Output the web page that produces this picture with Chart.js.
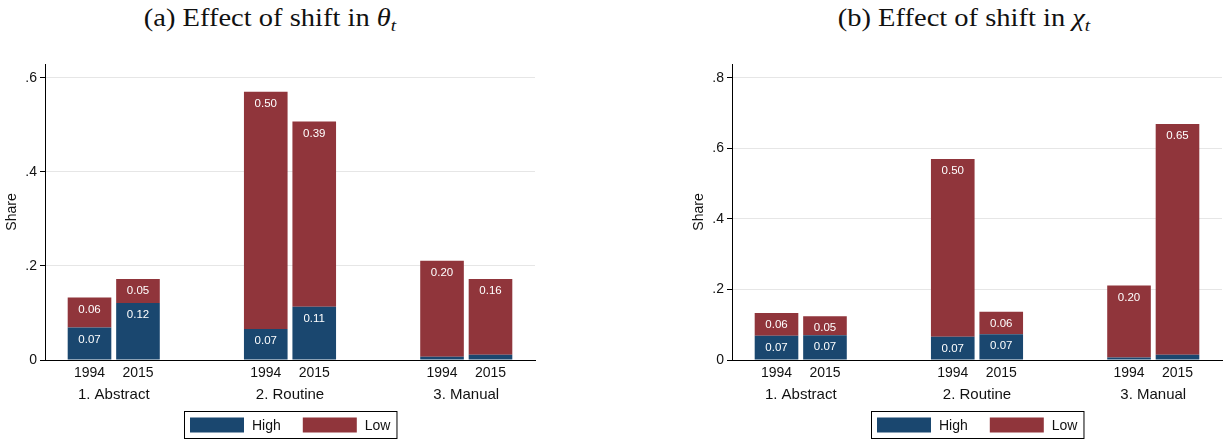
<!DOCTYPE html>
<html>
<head>
<meta charset="utf-8">
<script src="https://cdn.jsdelivr.net/npm/chart.js@4"></script>
<style>
  body { margin: 0; background: #fff; width: 1225px; height: 439px; overflow: hidden; position: relative; }
  canvas { position: absolute; top: 0; }
  .title { position: absolute; top: 3px; font-family: "Liberation Serif", "DejaVu Serif", serif; font-size: 25px; line-height: 30px; color: #111; white-space: nowrap; transform: translateX(-50%) scaleX(1.14); }
  .title sub { font-size: 17px; vertical-align: -5px; line-height: 0; }
</style>
</head>
<body>
<div class="title" style="left:270px">(a) Effect of shift in <i>θ<sub>t</sub></i></div>
<div class="title" style="left:964px">(b) Effect of shift in <i>χ<sub>t</sub></i></div>
<canvas id="chartA" width="612" height="439" style="left:0"></canvas>
<canvas id="chartB" width="613" height="439" style="left:612px"></canvas>
<script>
const groups = ['1. Abstract', '2. Routine', '3. Manual'];
const years = ['1994', '2015'];
const seriesNames = ['High', 'Low'];

// panel (a): shift in theta
const thetaHigh1994 = [0.069, 0.066, 0.007];
const thetaLow1994 = [0.064, 0.504, 0.204];
const thetaHigh2015 = [0.121, 0.113, 0.011];
const thetaLow2015 = [0.051, 0.394, 0.161];
const thetaTicks = [0, 0.2, 0.4, 0.6];

// panel (b): shift in chi
const chiHigh1994 = [0.069, 0.066, 0.007];
const chiLow1994 = [0.064, 0.504, 0.204];
const chiHigh2015 = [0.070, 0.073, 0.015];
const chiLow2015 = [0.054, 0.064, 0.654];
const chiTicks = [0, 0.2, 0.4, 0.6, 0.8];

const colors = ['#1a476f', '#90353b'];

Chart.defaults.font.family = '"Liberation Sans", Arial, sans-serif';
Chart.defaults.color = '#111';

// value labels, year / group labels under the axis, and the boxed legend
const annotate = {
    id: 'annotate',
    afterDatasetsDraw(chart) {
        const {ctx, chartArea, scales: {x}} = chart;
        ctx.save();
        ctx.textAlign = 'center';
        ctx.textBaseline = 'middle';

        ctx.font = '11.5px "Liberation Sans", Arial, sans-serif';
        ctx.fillStyle = '#ffffff';
        chart.data.datasets.forEach((ds, di) => {
            chart.getDatasetMeta(di).data.forEach((bar, i) => {
                const v = ds.data[i].y;
                if (v < 0.02) return;
                ctx.fillText(v.toFixed(2), bar.x, bar.y + 12);
            });
        });

        ctx.fillStyle = '#111';
        ctx.font = '14px "Liberation Sans", Arial, sans-serif';
        [0, 2].forEach((di, k) => {
            chart.getDatasetMeta(di).data.forEach(bar => {
                ctx.fillText(years[k], bar.x, chartArea.bottom + 13);
            });
        });
        ctx.font = '15px "Liberation Sans", Arial, sans-serif';
        groups.forEach((g, i) => ctx.fillText(g, x.getPixelForValue(i), chartArea.bottom + 35));

        // legend
        ctx.font = '14px "Liberation Sans", Arial, sans-serif';
        const pad = 6, sw = 54, sh = 15, gap = 8, between = 22, h = 27;
        const widths = seriesNames.map(n => ctx.measureText(n).width);
        const total = pad * 2 + widths.reduce((s, w) => s + sw + gap + w, 0) + between * (seriesNames.length - 1);
        const cx = (chartArea.left + chartArea.right) / 2;
        const left = Math.round(cx - total / 2) + 0.5;
        const top = chart.height - h - 0.5;
        ctx.fillStyle = '#fff';
        ctx.fillRect(left, top, total, h);
        ctx.strokeStyle = '#000';
        ctx.lineWidth = 1;
        ctx.strokeRect(left, top, total, h);
        let xx = left + pad - 0.5;
        ctx.textAlign = 'left';
        seriesNames.forEach((n, i) => {
            ctx.fillStyle = colors[i];
            ctx.fillRect(xx, top + 6, sw, sh);
            ctx.fillStyle = '#111';
            ctx.fillText(n, xx + sw + gap, top + h / 2 + 1);
            xx += sw + gap + widths[i] + between;
        });
        ctx.restore();
    }
};

function makeChart(id, high1994, low1994, high2015, low2015, yMax, yTicks, padLeft, padRight) {
    const pts = arr => arr.map((v, i) => ({x: i, y: v}));
    const ctx = document.getElementById(id).getContext('2d');
    return new Chart(ctx, {
        type: 'bar',
        data: {
            datasets: [
                {label: seriesNames[0], stack: years[0], data: pts(high1994), backgroundColor: colors[0]},
                {label: seriesNames[1], stack: years[0], data: pts(low1994), backgroundColor: colors[1]},
                {label: seriesNames[0], stack: years[1], data: pts(high2015), backgroundColor: colors[0]},
                {label: seriesNames[1], stack: years[1], data: pts(low2015), backgroundColor: colors[1]}
            ]
        },
        options: {
            responsive: false,
            animation: false,
            devicePixelRatio: 1,
            categoryPercentage: 0.55,
            barPercentage: 0.9,
            layout: {padding: {top: 64, left: padLeft, right: padRight, bottom: 0}},
            plugins: {
                legend: {display: false},
                tooltip: {enabled: false}
            },
            scales: {
                x: {
                    type: 'linear',
                    min: -0.39,
                    max: 2.39,
                    offset: false,
                    grid: {display: false},
                    border: {display: true, color: '#000', width: 1},
                    ticks: {display: false},
                    afterBuildTicks: s => { s.ticks = groups.map((g, i) => ({value: i})); },
                    afterFit: s => { s.height = 79; }
                },
                y: {
                    stacked: true,
                    min: 0,
                    max: yMax,
                    border: {display: true, color: '#000', width: 1},
                    grid: {
                        color: c => (c.tick && c.tick.value === 0) ? 'rgba(0,0,0,0)' : '#e6e6e6',
                        tickColor: '#000',
                        tickLength: 5
                    },
                    ticks: {
                        padding: 3,
                        font: {size: 14},
                        callback: v => v === 0 ? '0' : String(v).replace(/^0\./, '.')
                    },
                    afterBuildTicks: s => { s.ticks = yTicks.map(v => ({value: v})); },
                    afterFit: s => { s.width = 45; },
                    title: {display: true, text: 'Share', font: {size: 14}, color: '#111'}
                }
            }
        },
        plugins: [annotate]
    });
}

makeChart('chartA', thetaHigh1994, thetaLow1994, thetaHigh2015, thetaLow2015, 0.629, thetaTicks, 0, 77);
makeChart('chartB', chiHigh1994, chiLow1994, chiHigh2015, chiLow2015, 0.839, chiTicks, 75, 3);
</script>
</body>
</html>
